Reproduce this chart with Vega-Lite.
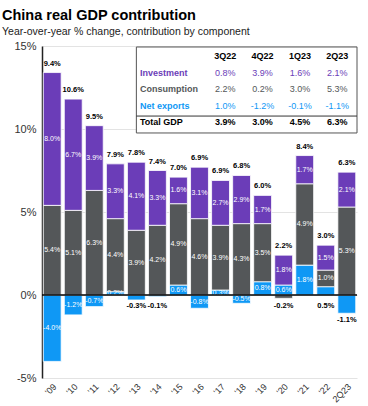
{
  "$schema": "https://vega.github.io/schema/vega-lite/v6.json",
  "width": 315,
  "height": 332,
  "padding": {"left": 2, "top": 8, "right": 11, "bottom": 2},
  "config": {
    "font": "Liberation Sans",
    "locale": {"number": {"decimal": ".", "thousands": ",", "grouping": [3], "currency": ["$", ""], "minus": "-"}},
    "view": {"stroke": null}
  },
  "title": {
    "text": "China real GDP contribution",
    "subtitle": "Year-over-year % change, contribution by component",
    "anchor": "start",
    "frame": "bounds",
    "fontSize": 14.5,
    "fontWeight": "bold",
    "color": "#000000",
    "subtitleFontSize": 10.5,
    "subtitleColor": "#222222",
    "subtitlePadding": 3,
    "offset": 2
  },
  "datasets": {
    "gdp": [
      {"cat": "'09", "Investment": 0.080, "Consumption": 0.054, "Net exports": -0.040, "total": 0.094},
      {"cat": "'10", "Investment": 0.067, "Consumption": 0.051, "Net exports": -0.012, "total": 0.106},
      {"cat": "'11", "Investment": 0.039, "Consumption": 0.063, "Net exports": -0.007, "total": 0.095},
      {"cat": "'12", "Investment": 0.033, "Consumption": 0.044, "Net exports": 0.002, "total": 0.079},
      {"cat": "'13", "Investment": 0.041, "Consumption": 0.039, "Net exports": -0.003, "total": 0.078},
      {"cat": "'14", "Investment": 0.033, "Consumption": 0.042, "Net exports": -0.001, "total": 0.074},
      {"cat": "'15", "Investment": 0.016, "Consumption": 0.049, "Net exports": 0.006, "total": 0.070},
      {"cat": "'16", "Investment": 0.031, "Consumption": 0.046, "Net exports": -0.008, "total": 0.069},
      {"cat": "'17", "Investment": 0.027, "Consumption": 0.039, "Net exports": 0.003, "total": 0.069},
      {"cat": "'18", "Investment": 0.029, "Consumption": 0.043, "Net exports": -0.005, "total": 0.068},
      {"cat": "'19", "Investment": 0.017, "Consumption": 0.035, "Net exports": 0.008, "total": 0.060},
      {"cat": "'20", "Investment": 0.018, "Consumption": -0.002, "Net exports": 0.006, "total": 0.022},
      {"cat": "'21", "Investment": 0.017, "Consumption": 0.049, "Net exports": 0.018, "total": 0.084},
      {"cat": "'22", "Investment": 0.015, "Consumption": 0.010, "Net exports": 0.005, "total": 0.030},
      {"cat": "2Q23", "Investment": 0.021, "Consumption": 0.053, "Net exports": -0.011, "total": 0.063}
    ],
    "table": [
      {"q": "3Q22", "Investment": 0.008, "Consumption": 0.022, "Net exports": 0.010, "Total GDP": 0.039},
      {"q": "4Q22", "Investment": 0.039, "Consumption": 0.002, "Net exports": -0.012, "Total GDP": 0.030},
      {"q": "1Q23", "Investment": 0.016, "Consumption": 0.030, "Net exports": -0.001, "Total GDP": 0.045},
      {"q": "2Q23", "Investment": 0.021, "Consumption": 0.053, "Net exports": -0.011, "Total GDP": 0.063}
    ]
  },
  "layer": [
    {
      "data": {"name": "gdp"},
      "transform": [
        {"fold": ["Net exports", "Consumption", "Investment"], "as": ["comp", "value"]},
        {"window": [{"op": "row_number", "as": "rank"}], "groupby": ["cat"]}
      ],
      "layer": [
        {
          "encoding": {
            "x": {
              "field": "cat", "type": "ordinal", "sort": null,
              "scale": {"paddingInner": 0.15, "paddingOuter": 0.06},
              "axis": {"title": null, "labelAngle": -45, "domain": false, "ticks": false, "labelFontSize": 9, "labelColor": "#333333", "labelPadding": 4}
            },
            "y": {
              "field": "value", "type": "quantitative", "stack": "zero",
              "scale": {"domain": [-0.05, 0.15], "nice": false, "zero": false},
              "axis": {"title": null, "format": ".0%", "values": [-0.05, 0, 0.05, 0.1, 0.15], "grid": true, "gridColor": "#e3e3e3", "ticks": false, "domainColor": "#222222", "domainWidth": 1.5, "labelFontSize": 11, "labelColor": "#333333", "labelPadding": 6, "minExtent": 40, "maxExtent": 40}
            },
            "order": {"field": "rank", "type": "quantitative"},
            "detail": {"field": "comp", "type": "nominal"}
          },
          "layer": [
            {
              "mark": {"type": "bar", "stroke": "white", "strokeWidth": 0.8},
              "encoding": {
                "color": {
                  "field": "comp", "type": "nominal", "legend": null,
                  "scale": {"domain": ["Investment", "Consumption", "Net exports", "Total GDP"], "range": ["#6b3db8", "#545759", "#0f98f5", "#000000"]}
                }
              }
            },
            {
              "mark": {"type": "text", "color": "white", "fontSize": 7, "baseline": "middle"},
              "encoding": {
                "y": {"field": "value", "type": "quantitative", "stack": "zero", "bandPosition": 0.5},
                "text": {"field": "value", "type": "quantitative", "format": ".1%"},
                "opacity": {
                  "condition": {"test": "(datum.comp === 'Net exports' && indexof([\"'13\", \"'14\", \"'22\", \"2Q23\"], datum.cat) >= 0) || (datum.comp === 'Consumption' && datum.cat === \"'20\")", "value": 0},
                  "value": 1
                }
              }
            },
            {
              "mark": {"type": "text", "color": "black", "fontSize": 7.5, "fontWeight": "bold", "baseline": "middle", "dy": -9},
              "encoding": {
                "text": {"field": "total", "type": "quantitative", "format": ".1%"},
                "opacity": {"condition": {"test": "datum.comp !== 'Investment'", "value": 0}, "value": 1}
              }
            },
            {
              "transform": [{"filter": "(datum.comp === 'Net exports' && indexof([\"'13\", \"'14\", \"'22\"], datum.cat) >= 0) || (datum.comp === 'Consumption' && datum.cat === \"'20\")"}],
              "mark": {"type": "text", "color": "black", "fontSize": 7.5, "fontWeight": "bold", "baseline": "middle", "dy": 11},
              "encoding": {
                "y": {"datum": 0},
                "text": {"field": "value", "type": "quantitative", "format": ".1%"}
              }
            },
            {
              "transform": [{"filter": "datum.comp === 'Net exports' && datum.cat === '2Q23'"}],
              "mark": {"type": "text", "color": "black", "fontSize": 7.5, "fontWeight": "bold", "baseline": "top", "dy": 3},
              "encoding": {
                "y": {"field": "value", "type": "quantitative", "stack": null},
                "text": {"field": "value", "type": "quantitative", "format": ".1%"}
              }
            }
          ]
        },
        {
          "data": {"values": [{}]},
          "mark": {"type": "rule", "color": "#000000", "strokeWidth": 1.5},
          "encoding": {"y": {"datum": 0, "type": "quantitative"}}
        },
        {
          "data": {"values": [{}]},
          "mark": {"type": "rect", "fill": "white", "stroke": "#555555", "strokeWidth": 1},
          "encoding": {
            "x": {"datum": "'13", "type": "ordinal", "bandPosition": 0.5},
            "x2": {"value": {"expr": "width"}},
            "y": {"datum": 0.1494, "type": "quantitative"},
            "y2": {"datum": 0.0976}
          }
        },
        {
          "data": {"values": [{}]},
          "mark": {"type": "rule", "color": "#333333", "strokeWidth": 1},
          "encoding": {
            "x": {"datum": "'13", "type": "ordinal", "bandPosition": 0.5},
            "x2": {"value": {"expr": "width"}},
            "y": {"datum": 0.1078, "type": "quantitative"}
          }
        }
      ]
    },
    {
      "data": {"name": "table"},
      "transform": [{"fold": ["Investment", "Consumption", "Net exports", "Total GDP"], "as": ["comp", "value"]}],
      "layer": [
        {
          "transform": [{"filter": "datum.comp !== 'Total GDP'"}],
          "mark": {"type": "text", "fontSize": 9, "baseline": "middle"},
          "encoding": {
            "x": {"field": "q", "type": "nominal", "scale": {"type": "point", "domain": ["Component", "3Q22", "4Q22", "1Q23", "2Q23"], "padding": 0, "range": [146, 295.2]}, "axis": null},
            "y": {"field": "comp", "type": "nominal", "scale": {"type": "point", "domain": ["Quarter", "Investment", "Consumption", "Net exports", "Total GDP"], "padding": 0, "range": [10, 76]}, "axis": null},
            "text": {"field": "value", "type": "quantitative", "format": ".1%"},
            "color": {"field": "comp", "type": "nominal", "legend": null}
          }
        },
        {
          "transform": [{"filter": "datum.comp === 'Total GDP'"}],
          "mark": {"type": "text", "fontSize": 9, "fontWeight": "bold", "color": "#000000", "baseline": "middle"},
          "encoding": {
            "x": {"field": "q", "type": "nominal", "axis": null},
            "y": {"field": "comp", "type": "nominal", "axis": null},
            "text": {"field": "value", "type": "quantitative", "format": ".1%"}
          }
        },
        {
          "transform": [{"filter": "datum.comp === 'Investment'"}],
          "mark": {"type": "text", "fontSize": 9, "fontWeight": "bold", "color": "#000000", "baseline": "middle"},
          "encoding": {
            "x": {"field": "q", "type": "nominal", "axis": null},
            "y": {"datum": "Quarter", "type": "nominal", "axis": null},
            "text": {"field": "q", "type": "nominal"}
          }
        },
        {
          "transform": [{"filter": "datum.q === '3Q22'"}],
          "mark": {"type": "text", "fontSize": 9, "fontWeight": "bold", "align": "left", "dx": -48, "baseline": "middle"},
          "encoding": {
            "x": {"datum": "Component", "type": "nominal", "axis": null},
            "y": {"field": "comp", "type": "nominal", "axis": null},
            "text": {"field": "comp", "type": "nominal"},
            "color": {"field": "comp", "type": "nominal", "legend": null}
          }
        }
      ]
    }
  ],
  "resolve": {"scale": {"x": "independent", "y": "independent"}}
}
